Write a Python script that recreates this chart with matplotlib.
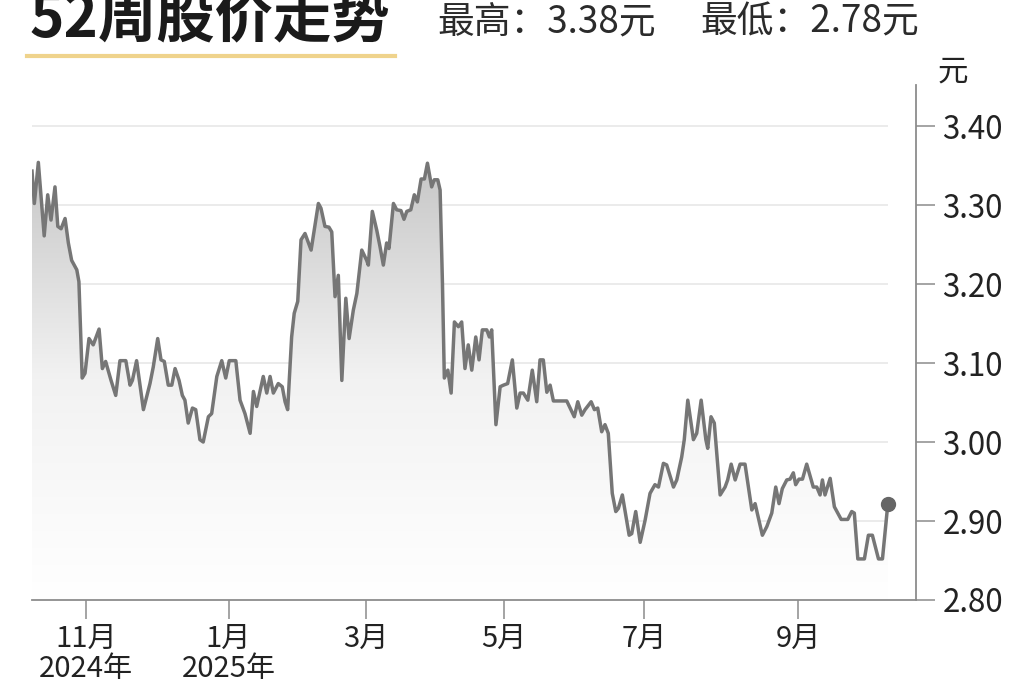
import numpy as np
import matplotlib
matplotlib.use("Agg")
import matplotlib.pyplot as plt
from matplotlib.colors import LinearSegmentedColormap
from matplotlib.lines import Line2D

plt.rcParams['font.family'] = ['Noto Sans CJK SC', 'DejaVu Sans']

# day position inside the 52-week window
days = [
    0.0, 1.0, 2.7, 5.2, 6.7, 8.1, 9.8, 11.0, 12.4, 14.1,
    15.5, 16.9, 19.1, 20.0, 21.4, 22.6, 24.3, 26.1, 28.6, 30.0,
    31.4, 33.7, 35.7, 37.5, 40.0, 41.8, 42.8, 44.6, 47.5, 50.3,
    51.7, 53.6, 55.0, 56.4, 58.1, 59.6, 61.0, 62.7, 64.1, 65.2,
    66.6, 68.4, 69.8,
    71.6, 73.0, 75.2, 76.6, 78.8, 80.9, 82.6, 84.1, 86.9, 88.7,
    90.8, 93.0, 94.4, 95.8, 98.6, 100.1, 101.5, 102.9, 105.0, 106.7,
    107.9, 109.0, 110.7, 111.8, 113.3, 114.7, 116.4, 119.0, 122.1, 123.2,
    124.9, 126.6, 127.8, 129.2, 130.6, 132.1, 133.8, 135.2, 137.0, 138.5,
    140.6, 142.7, 143.4,
    145.1, 147.0, 148.4, 149.8, 151.2, 152.2, 154.1, 155.5, 157.3, 158.6,
    159.8, 161.5, 163.0, 164.3, 165.9, 167.3, 168.6, 170.4, 171.5, 173.0,
    174.0, 175.0, 175.8, 177.3, 178.7, 180.1, 181.8, 183.2, 184.6, 186.0,
    187.5, 189.2, 190.6, 192.0, 193.9, 195.0, 196.0, 197.8, 199.6, 201.0,
    202.8, 204.8, 206.7, 208.1, 209.5, 211.4, 213.3, 215.2, 216.6,
    218.0, 219.5, 220.9, 222.3, 228.0, 231.2, 232.7, 234.4, 235.8, 238.4,
    239.8, 241.2, 242.9, 244.3, 245.7, 247.4, 248.9, 250.0, 251.7, 254.6,
    255.7, 257.4, 259.3, 261.4, 263.5, 265.6, 267.1, 269.2, 270.6, 273.5,
    274.9, 277.0, 278.1, 279.6, 282.0, 283.4, 285.3, 287.3, 288.1, 289.5,
    290.9, 293.4, 295.5, 296.6, 298.1, 299.8, 301.9, 304.0, 306.9, 308.3,
    311.4, 313.3, 315.4, 317.1, 318.5, 319.9, 321.8, 323.2, 324.6, 325.6,
    327.0, 328.5, 330.3, 333.1, 334.6, 336.0, 337.0, 338.1, 340.3, 342.1,
    345.0, 347.8, 349.5, 350.6, 352.1, 354.9, 356.6, 358.3, 360.9, 362.6,
    364.9,
]

prices = [
    3.343, 3.302, 3.354, 3.261, 3.313, 3.281, 3.323, 3.273, 3.270, 3.283,
    3.252, 3.230, 3.218, 3.203, 3.081, 3.087, 3.131, 3.123, 3.143, 3.093,
    3.102, 3.078, 3.059, 3.103, 3.103, 3.072, 3.078, 3.103, 3.041, 3.074,
    3.095, 3.131, 3.104, 3.102, 3.072, 3.072, 3.093, 3.078, 3.059, 3.053,
    3.024, 3.043, 3.041,
    3.003, 3.000, 3.032, 3.036, 3.083, 3.103, 3.081, 3.103, 3.103, 3.053,
    3.036, 3.011, 3.064, 3.045, 3.083, 3.062, 3.083, 3.062, 3.074, 3.070,
    3.051, 3.041, 3.133, 3.163, 3.178, 3.256, 3.264, 3.243, 3.302, 3.296,
    3.273, 3.272, 3.266, 3.184, 3.211, 3.078, 3.182, 3.131, 3.167, 3.188,
    3.243, 3.230, 3.224,
    3.292, 3.268, 3.247, 3.224, 3.252, 3.245, 3.302, 3.294, 3.293, 3.282,
    3.292, 3.294, 3.313, 3.304, 3.333, 3.333, 3.353, 3.323, 3.332, 3.332,
    3.319, 3.201, 3.081, 3.091, 3.062, 3.152, 3.146, 3.152, 3.093, 3.123,
    3.091, 3.133, 3.104, 3.142, 3.142, 3.133, 3.142, 3.022, 3.070, 3.072,
    3.074, 3.104, 3.043, 3.062, 3.062, 3.053, 3.091, 3.051, 3.104,
    3.104, 3.063, 3.072, 3.052, 3.052, 3.032, 3.051, 3.034, 3.041, 3.051,
    3.041, 3.043, 3.013, 3.022, 3.011, 2.935, 2.912, 2.916, 2.933, 2.882,
    2.884, 2.912, 2.873, 2.901, 2.935, 2.946, 2.943, 2.973, 2.971, 2.943,
    2.952, 2.981, 3.003, 3.053, 3.003, 3.011, 3.053, 3.003, 2.992, 3.032,
    3.024, 2.933, 2.943, 2.952, 2.972, 2.952, 2.972, 2.972, 2.914, 2.922,
    2.882, 2.893, 2.910, 2.943, 2.922, 2.941, 2.952, 2.953, 2.961, 2.946,
    2.953, 2.953, 2.972, 2.943, 2.943, 2.933, 2.952, 2.933, 2.954, 2.918,
    2.902, 2.902, 2.912, 2.910, 2.852, 2.852, 2.882, 2.882, 2.852, 2.852,
    2.922,
]

month_days = [23.0, 83.8, 142.4, 201.3, 261.0, 326.6]
month_labels = ["11月\n2024年", "1月\n2025年", "3月", "5月", "7月", "9月"]
price_ticks = [2.80, 2.90, 3.00, 3.10, 3.20, 3.30, 3.40]

title = "52周股价走势"
high_text = "最高：3.38元"
low_text = "最低：2.78元"

fig = plt.figure(figsize=(10.23, 6.82), dpi=100)
ax = fig.add_axes([32 / 1023, 82 / 682, 884 / 1023, 515 / 682])
ax.set_xlim(0, 376.9)
ax.set_ylim(2.80, 3.452)

# light grid lines, only as far as the data goes
ax.hlines(price_ticks[1:], days[0], days[-1], colors="#e9e9e9", lw=1.3, zorder=0.5)

# gradient fill under the line
area = ax.fill_between(days, prices, 2.80, facecolor="none", edgecolor="none")
cmap = LinearSegmentedColormap.from_list("fade", ["#ffffff", "#f2f2f2", "#c6c6c6"])
grad = np.linspace(1, 0, 256).reshape(-1, 1)
im = ax.imshow(grad, extent=[days[0], days[-1], 2.80, 3.36], aspect="auto",
               cmap=cmap, origin="upper", zorder=1)
im.set_clip_path(area.get_paths()[0], ax.transData)

ax.plot(days, prices, color="#767676", lw=2.5, solid_joinstyle="round", zorder=3)
ax.plot(days[-1], prices[-1], "o", ms=10, color="#666666", zorder=4)

for side in ["left", "top"]:
    ax.spines[side].set_visible(False)
for side in ["right", "bottom"]:
    ax.spines[side].set_color("#8c8c8c")
    ax.spines[side].set_linewidth(1.3)

ax.yaxis.tick_right()
ax.set_yticks(price_ticks, [f"{p:.2f}" for p in price_ticks])
ax.tick_params(axis="y", direction="out", length=14, width=1.1, color="#8c8c8c",
               pad=5, labelsize=22.5, labelcolor="#222222")
ax.set_xticks(month_days, month_labels)
ax.tick_params(axis="x", direction="out", length=14, width=1.1, color="#8c8c8c",
               pad=3, labelsize=21, labelcolor="#222222")
for lab in ax.get_xticklabels():
    lab.set_linespacing(1.0)

fig.text(953 / 1023, 1 - 72 / 682, "元", fontsize=22, ha="center", va="center", color="#222222")

fig.text(30 / 1023, 1 - 37 / 682, title, fontsize=42, weight="heavy",
         va="baseline", color="#1a1a1a")
fig.add_artist(Line2D([27 / 1023, 395 / 1023], [1 - 56 / 682] * 2,
                      color="#efd38c", lw=3))
fig.text(437 / 1023, 1 - 32 / 682, high_text, fontsize=26.5, va="baseline", color="#2b2b2b")
fig.text(700 / 1023, 1 - 32 / 682, low_text, fontsize=26.5, va="baseline", color="#2b2b2b")

fig.savefig("out.png", dpi=100)
